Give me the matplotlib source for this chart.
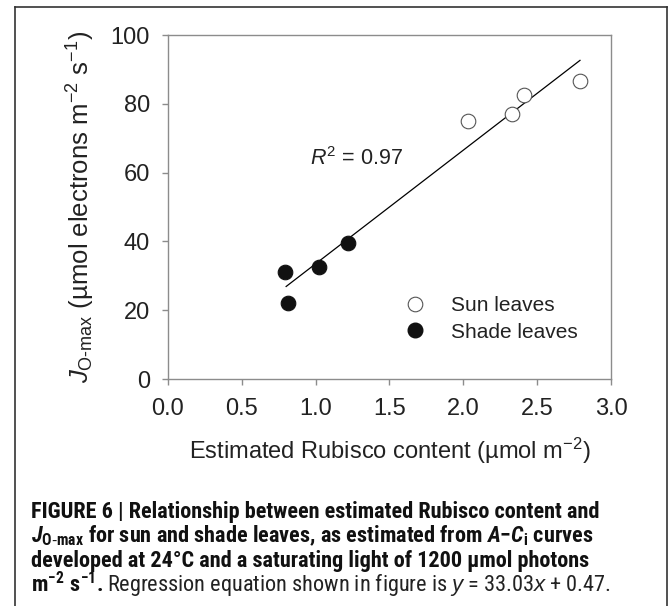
import numpy as np
import matplotlib
matplotlib.use('Agg')
import matplotlib.pyplot as plt
from matplotlib.lines import Line2D
from matplotlib import font_manager

# data
sun_x = [2.03, 2.33, 2.41, 2.79]
sun_y = [75.0, 77.0, 82.5, 86.5]
shade_x = [0.79, 0.81, 1.02, 1.22]
shade_y = [31.0, 22.0, 32.5, 39.5]
slope, intercept = 33.03, 0.47
fit_range = [0.80, 2.79]
r2 = 0.97

x_ticks = [0.0, 0.5, 1.0, 1.5, 2.0, 2.5, 3.0]
y_ticks = [0, 20, 40, 60, 80, 100]

# pick a narrow font for the caption if one is installed
installed = {f.name for f in font_manager.fontManager.ttflist}
cap_family = 'Liberation Sans'
for name in ['Liberation Sans Narrow', 'DejaVu Sans Condensed', 'Roboto Condensed',
             'Open Sans Condensed', 'Noto Sans Condensed', 'Roboto']:
    if name in installed:
        cap_family = name
        break

plt.rcParams['font.family'] = ['Liberation Sans', 'DejaVu Sans']
plt.rcParams['mathtext.fontset'] = 'custom'
plt.rcParams['mathtext.rm'] = 'Liberation Sans'
plt.rcParams['mathtext.it'] = 'Liberation Sans:italic'
plt.rcParams['mathtext.bf'] = cap_family + ':bold'
plt.rcParams['mathtext.bfit'] = cap_family + ':italic:bold'

W, H = 669, 606
fig = plt.figure(figsize=(W / 100, H / 100), dpi=100)

# axes box in pixels: left 168, right 611, top 35, bottom 379
ax = fig.add_axes([168 / W, 1 - 379 / H, (611 - 168) / W, (379 - 35) / H])

spine_col = '#8c8c8c'
for s in ax.spines.values():
    s.set_color(spine_col)
    s.set_linewidth(1.0)

# regression line
fx = np.array(fit_range)
ax.plot(fx, slope * fx + intercept, color='black', lw=0.9, zorder=2)

ax.plot(sun_x, sun_y, 'o', ms=10.5, mfc='white', mec='#555555', mew=0.8, zorder=3)
ax.plot(shade_x, shade_y, 'o', ms=10.5, mfc='#111111', mec='#111111', mew=0.8, zorder=3)

ax.set_xlim(0, 3)
ax.set_ylim(0, 100)
ax.set_xticks(x_ticks)
ax.set_yticks(y_ticks)
ax.set_xticklabels([f'{v:.1f}' for v in x_ticks])
ax.tick_params(axis='both', direction='out', length=4, width=1, color=spine_col,
               labelsize=17, labelcolor='#222222')
ax.tick_params(axis='x', pad=10)
ax.tick_params(axis='y', pad=9)

ax.text(0.96, 64, r'$\mathit{R}^2$ = ' + f'{r2:.2f}', fontsize=15.5, color='#222222',
        va='center', ha='left')

ax.set_xlabel('Estimated Rubisco content (µmol m$^{-2}$)', fontsize=17,
              color='#222222', labelpad=11)
ax.set_ylabel(r'$\mathit{J}_{\mathrm{O\text{-}max}}$ (µmol electrons m$^{-2}$ s$^{-1}$)',
              fontsize=18.5, color='#222222', labelpad=10)

handles = [Line2D([], [], ls='none', marker='o', ms=10.5, mfc='white', mec='#555555', mew=0.8),
           Line2D([], [], ls='none', marker='o', ms=10.5, mfc='#111111', mec='#111111')]
ax.legend(handles, ['Sun leaves', 'Shade leaves'], frameon=False, fontsize=15,
          loc='upper left', bbox_to_anchor=(0.505, 0.272), handletextpad=1.15,
          labelspacing=0.38, borderpad=0, handlelength=1.2, labelcolor='#222222')

# outer frame (open at the bottom)
fc = '#333333'
fig.add_artist(Line2D([15 / W, 15 / W], [0, 1 - 7 / H], color=fc, lw=1.2))
fig.add_artist(Line2D([15 / W, 667 / W], [1 - 7 / H, 1 - 7 / H], color=fc, lw=1.2))
fig.add_artist(Line2D([667 / W, 667 / W], [0, 1 - 7 / H], color=fc, lw=1.2))

# caption, sized so the first line spans the same width as in the figure
cx = 31 / W
target_w = 572
fs = 15.5
probe = fig.text(0, 0, 'FIGURE 6 | Relationship between estimated Rubisco content and',
                 fontsize=fs, fontweight='bold', family=cap_family)
fig.canvas.draw()
fs = fs * target_w / probe.get_window_extent().width
probe.remove()

lines = [
    r'FIGURE 6 | Relationship between estimated Rubisco content and',
    r'$\mathbfit{J}_{\mathbf{O\text{-}max}}$ for sun and shade leaves, as estimated from '
    r'$\mathbfit{A}$$\mathbf{-}$$\mathbfit{C}_{\mathbf{i}}$ curves',
    r'developed at 24°C and a saturating light of 1200 µmol photons',
]
ys = [512, 536, 561]
for t, yy in zip(lines, ys):
    fig.text(cx, 1 - yy / H, t, fontsize=fs, fontweight='bold', family=cap_family,
             va='center', ha='left', color='#111111')

y4 = 585
t1 = fig.text(cx, 1 - y4 / H, r'$\mathbf{m^{-2}\ s^{-1}.}$', fontsize=fs,
              family=cap_family, va='center', ha='left', color='#111111')
fig.canvas.draw()
bb = t1.get_window_extent()
fig.text((bb.x1 + 4) / W, 1 - y4 / H,
         r'Regression equation shown in figure is $\mathit{y}$ = 33.03$\mathit{x}$ + 0.47.',
         fontsize=fs, family=cap_family, va='center', ha='left', color='#222222')

fig.savefig('out.png', dpi=100)
